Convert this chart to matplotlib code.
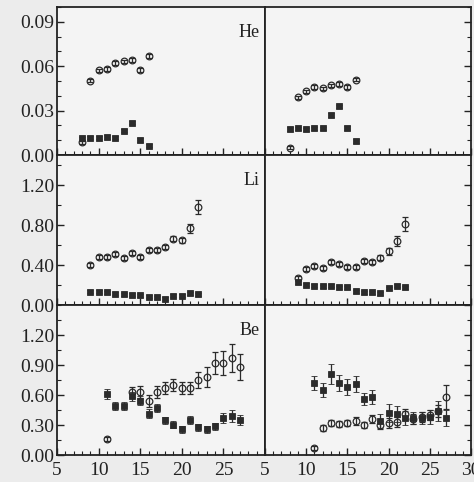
import numpy as np
import matplotlib
matplotlib.use('Agg')
import matplotlib.pyplot as plt
from matplotlib.ticker import MultipleLocator, FixedLocator

plt.rcParams['font.family'] = ['Liberation Serif', 'DejaVu Serif']

# %% datos
he_x = [8, 9, 10, 11, 12, 13, 14, 15, 16]
he_left_open = [0.0085, 0.0503, 0.0571, 0.0582, 0.0621, 0.0632, 0.0643, 0.0576, 0.0670]
he_left_filled = [0.0112, 0.0117, 0.0117, 0.0122, 0.0117, 0.0165, 0.0219, 0.0102, 0.0063]
he_right_open = [0.005, 0.039, 0.043, 0.046, 0.045, 0.047, 0.048, 0.046, 0.051]
he_right_filled = [0.0175, 0.018, 0.0173, 0.018, 0.018, 0.0272, 0.0328, 0.0184, 0.0096]
he_err = [0.0012] * 9

li_x = [9, 10, 11, 12, 13, 14, 15, 16, 17, 18, 19, 20, 21, 22]
li_left_open = [0.403, 0.485, 0.485, 0.508, 0.469, 0.518, 0.482, 0.547, 0.547, 0.583, 0.661, 0.649, 0.770, 0.983]
li_left_open_err = [0.02] * 10 + [0.025, 0.025, 0.045, 0.07]
li_left_filled = [0.131, 0.131, 0.128, 0.115, 0.108, 0.105, 0.098, 0.082, 0.079, 0.062, 0.091, 0.091, 0.118, 0.108]
li_right_open = [0.275, 0.357, 0.390, 0.373, 0.432, 0.406, 0.380, 0.383, 0.445, 0.432, 0.472, 0.538, 0.636, 0.806]
li_right_open_err = [0.02] * 10 + [0.025, 0.035, 0.05, 0.07]
li_right_filled = [0.226, 0.204, 0.194, 0.187, 0.194, 0.177, 0.177, 0.138, 0.128, 0.128, 0.118, 0.167, 0.194, 0.177]
li_filled_err = [0.015] * 14

be_x = [11, 12, 13, 14, 15, 16, 17, 18, 19, 20, 21, 22, 23, 24, 25, 26, 27]
be_left_filled = [0.606, 0.495, 0.495, 0.586, 0.545, 0.411, 0.468, 0.350, 0.303, 0.260, 0.350, 0.276, 0.260, 0.286, 0.370, 0.387, 0.350]
be_left_filled_err = [0.05, 0.04, 0.04, 0.045, 0.045, 0.045, 0.04, 0.035, 0.035, 0.035, 0.04, 0.035, 0.035, 0.035, 0.05, 0.06, 0.05]
be_left_open_x = [11, 14, 15, 16, 17, 18, 19, 20, 21, 22, 23, 24, 25, 26, 27]
be_left_open = [0.158, 0.63, 0.63, 0.54, 0.63, 0.674, 0.697, 0.674, 0.667, 0.747, 0.781, 0.916, 0.916, 0.966, 0.882]
be_left_open_err = [0.02, 0.05, 0.06, 0.06, 0.06, 0.06, 0.06, 0.06, 0.06, 0.08, 0.10, 0.11, 0.12, 0.14, 0.13]
be_right_filled = [0.72, 0.65, 0.81, 0.72, 0.68, 0.71, 0.56, 0.58, 0.34, 0.42, 0.41, 0.37, 0.37, 0.37, 0.38, 0.44, 0.37]
be_right_filled_err = [0.07, 0.07, 0.10, 0.08, 0.08, 0.08, 0.06, 0.07, 0.07, 0.09, 0.08, 0.07, 0.06, 0.06, 0.07, 0.10, 0.08]
be_right_open = [0.07, 0.27, 0.32, 0.31, 0.32, 0.34, 0.30, 0.36, 0.30, 0.32, 0.33, 0.41, 0.36, 0.38, 0.40, 0.44, 0.58]
be_right_open_err = [0.02, 0.03, 0.03, 0.03, 0.03, 0.04, 0.03, 0.04, 0.04, 0.05, 0.05, 0.05, 0.05, 0.05, 0.05, 0.06, 0.12]

elementos = ['He', 'Li', 'Be']
ylims = [0.10, 1.5, 1.5]
y_major = [0.03, 0.4, 0.3]
y_minor = [0.01, 0.2, 0.15]
y_label_max = [0.09, 1.2, 1.2]
x_labels_left = [5, 10, 15, 20, 25]

# %% figura
W, H = 474, 482
fig = plt.figure(figsize=(W / 100, H / 100), dpi=100, facecolor='#ececec')
color = '#2b2b2b'

x0, xm, x1 = 57, 265, 471
filas = [(7, 155), (155, 305), (305, 455)]

def nueva_ax(left, right, top, bottom):
    return fig.add_axes([left / W, (H - bottom) / H, (right - left) / W, (bottom - top) / H],
                        facecolor='#f4f4f4')

def puntos(ax, x, y, err, abierto):
    if abierto:
        ax.errorbar(x, y, yerr=err, fmt='o', ms=4.8, mfc='none', mec=color, mew=0.9,
                    ecolor=color, elinewidth=0.9, capsize=2, capthick=0.9, zorder=3)
    else:
        ax.errorbar(x, y, yerr=err, fmt='s', ms=4.3, mfc=color, mec=color, mew=0.6,
                    ecolor=color, elinewidth=0.9, capsize=2, capthick=0.9, zorder=4)

series = [
    ((he_x, he_left_open, he_err), (he_x, he_left_filled, he_err),
     (he_x, he_right_open, he_err), (he_x, he_right_filled, he_err)),
    ((li_x, li_left_open, li_left_open_err), (li_x, li_left_filled, li_filled_err),
     (li_x, li_right_open, li_right_open_err), (li_x, li_right_filled, li_filled_err)),
    ((be_left_open_x, be_left_open, be_left_open_err), (be_x, be_left_filled, be_left_filled_err),
     (be_x, be_right_open, be_right_open_err), (be_x, be_right_filled, be_right_filled_err)),
]

for i, (top, bottom) in enumerate(filas):
    axl = nueva_ax(x0, xm, top, bottom)
    axr = nueva_ax(xm, x1, top, bottom)
    lo, lf, ro, rf = series[i]
    puntos(axl, *lo, True)
    puntos(axl, *lf, False)
    puntos(axr, *ro, True)
    puntos(axr, *rf, False)

    for ax, lado in [(axl, 'left'), (axr, 'right')]:
        ax.set_xlim(5, 30)
        ax.set_ylim(0, ylims[i])
        ax.xaxis.set_major_locator(MultipleLocator(5))
        ax.xaxis.set_minor_locator(MultipleLocator(1))
        ax.yaxis.set_major_locator(MultipleLocator(y_major[i]))
        ax.yaxis.set_minor_locator(MultipleLocator(y_minor[i]))
        for s in ax.spines.values():
            s.set_linewidth(1.3)
            s.set_color('#222222')
        ax.tick_params(which='both', direction='in', colors='#222222', labelsize=14,
                       top=False, bottom=True, left=(lado == 'left'), right=(lado == 'right'),
                       labelleft=(lado == 'left'), labelright=False,
                       labelbottom=(i == 2), pad=3)
        ax.tick_params(which='major', length=5, width=1)
        ax.tick_params(which='minor', length=3, width=0.8)

    # etiquetas del eje y solo hasta el ultimo valor que sale en la figura
    ticks_y = np.arange(0, y_label_max[i] + 1e-9, y_major[i])
    axl.yaxis.set_major_locator(FixedLocator(ticks_y))
    axl.set_yticklabels(['{:.2f}'.format(t) for t in ticks_y])
    axl.tick_params(axis='y', pad=2)
    if i == 2:
        axl.set_xticks(x_labels_left)
        axl.tick_params(axis='x', pad=5)
        axr.tick_params(axis='x', pad=5)

    axl.text(0.975, 0.83, elementos[i], transform=axl.transAxes, ha='right', va='center',
             fontsize=13, color='#222222')

fig.savefig('out.png', dpi=100, facecolor=fig.get_facecolor())
